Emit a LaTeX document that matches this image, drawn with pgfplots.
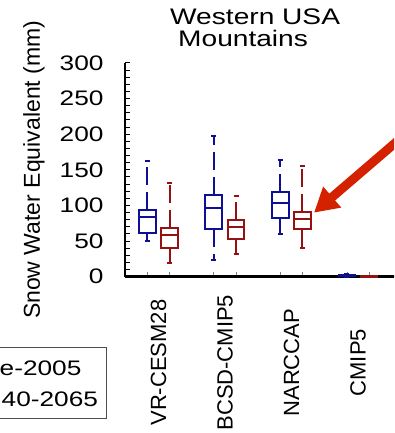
\documentclass[border=0pt]{standalone}
\usepackage{fontspec}
\setmainfont{Liberation Sans}[FakeStretch=1.25]
\newfontfamily\rotfont{Liberation Sans}
\usepackage{pgfplots}
\pgfplotsset{compat=1.18}
\usepgfplotslibrary{statistics}
\usetikzlibrary{arrows.meta}
\definecolor{cblue}{RGB}{15,15,150}
\definecolor{cred}{RGB}{150,18,18}
\definecolor{carrow}{RGB}{212,34,0}
\pgfplotsset{
  boxplot/draw direction=y,
  boxplot/box extend=0.25,
  boxplot/whisker extend=0.075,
  boxplot/every box/.style={solid, line width=2pt},
  boxplot/every median/.style={solid, line width=2pt},
  boxplot/every whisker/.style={line width=2pt},
  boxplot/draw/upper whisker/.code={%
    \draw[/pgfplots/boxplot/every whisker/.try, dash pattern=on 18pt off 7pt]
      (boxplot box cs:\pgfplotsboxplotvalue{upper quartile},0.5) -- (boxplot box cs:\pgfplotsboxplotvalue{upper whisker},0.5);
    \draw[/pgfplots/boxplot/every whisker/.try, solid]
      (boxplot whisker cs:\pgfplotsboxplotvalue{upper whisker},0) -- (boxplot whisker cs:\pgfplotsboxplotvalue{upper whisker},1);
  },
  boxplot/draw/lower whisker/.code={%
    \draw[/pgfplots/boxplot/every whisker/.try, dash pattern=on 18pt off 7pt]
      (boxplot box cs:\pgfplotsboxplotvalue{lower quartile},0.5) -- (boxplot box cs:\pgfplotsboxplotvalue{lower whisker},0.5);
    \draw[/pgfplots/boxplot/every whisker/.try, solid]
      (boxplot whisker cs:\pgfplotsboxplotvalue{lower whisker},0) -- (boxplot whisker cs:\pgfplotsboxplotvalue{lower whisker},1);
  },
}
\begin{document}
\begin{tikzpicture}
\useasboundingbox (0pt,0pt) rectangle (394pt,433pt);
\clip (0pt,0pt) rectangle (394pt,433pt);
\begin{axis}[
  at={(125.2pt,156.3pt)}, anchor=south west,
  scale only axis, width=284.6pt, height=213.7pt,
  xmin=0.5, xmax=4.78, ymin=0, ymax=300,
  clip=false,
  axis x line*=bottom, axis y line*=left,
  axis line style={line width=2.4pt},
  ytick={0,50,...,300}, minor y tick num=4,
  tick align=inside, major tick length=5pt, minor tick length=5pt,
  ytick pos=left, xtick pos=bottom,
  tick style={black, line width=1pt},
  xtick={0.832,1.168,1.832,2.168,2.835,3.165,3.835,4.165},
  xticklabels={},
  major x tick style={gray, line width=0.6pt},
  extra x ticks={1,2,3,4},
  extra x tick labels={VR-CESM28,BCSD-CMIP5,NARCCAP,CMIP5},
  extra x tick style={major tick length=0pt,
    xticklabel style={font=\rotfont\fontsize{22}{26}\selectfont, yshift=-86pt, rotate=90, anchor=center}},
  yticklabel style={font=\fontsize{21}{25}\selectfont, anchor=east, inner sep=0pt, xshift=-21.5pt},
  /pgf/number format/assume math mode=true,
  ylabel={Snow Water Equivalent (mm)},
  ylabel style={font=\rotfont\fontsize{23}{27}\selectfont, at={(axis description cs:-0.2994,0.5)}, anchor=base, inner sep=0pt},
  title={Western USA\\\hspace*{8pt}Mountains},
  title style={font=\fontsize{22.5}{22}\selectfont, align=left, anchor=north west, inner sep=0pt, at={(axis description cs:0.1574,1.2246)}},
]
% VR-CESM28
\addplot[cblue, boxplot prepared={lower whisker=50, lower quartile=61, median=84, upper quartile=94, upper whisker=163, draw position=0.832}] coordinates {};
\addplot[cred, boxplot prepared={lower whisker=19, lower quartile=40, median=58, upper quartile=69, upper whisker=131, draw position=1.168}] coordinates {};
% BCSD-CMIP5
\addplot[cblue, boxplot prepared={lower whisker=23, lower quartile=67, median=96, upper quartile=114, upper whisker=197, draw position=1.832}] coordinates {};
\addplot[cred, boxplot prepared={lower whisker=32, lower quartile=53, median=70, upper quartile=79, upper whisker=113, draw position=2.168}] coordinates {};
% NARCCAP
\addplot[cblue, boxplot prepared={lower whisker=60, lower quartile=83, median=103, upper quartile=119, upper whisker=164, draw position=2.835}] coordinates {};
\addplot[cred, boxplot prepared={lower whisker=40, lower quartile=67, median=81, upper quartile=91, upper whisker=155, draw position=3.165}] coordinates {};
% CMIP5
\addplot[cblue, boxplot prepared={lower whisker=0, lower quartile=0.5, median=1, upper quartile=2, upper whisker=3.5, draw position=3.835}] coordinates {};
\addplot[cred, boxplot prepared={lower whisker=0, lower quartile=0.2, median=0.4, upper quartile=0.7, upper whisker=1, draw position=4.165}] coordinates {};
\end{axis}
% legend (cropped)
\draw[gray!60!black, line width=1pt] (-10pt,14pt) rectangle (106pt,85pt);
\node[anchor=base west, inner sep=0pt, font=\fontsize{21}{25}\selectfont] at (-0.5pt,57pt) {e-2005};
\node[anchor=base west, inner sep=0pt, font=\fontsize{21}{25}\selectfont] at (1.5pt,26.3pt) {40-2065};
% arrow
\draw[carrow, line width=9pt, -{Triangle[length=24pt, width=26pt]}] (410pt,302.8pt) -- (314pt,220.3pt);
\end{tikzpicture}
\end{document}
